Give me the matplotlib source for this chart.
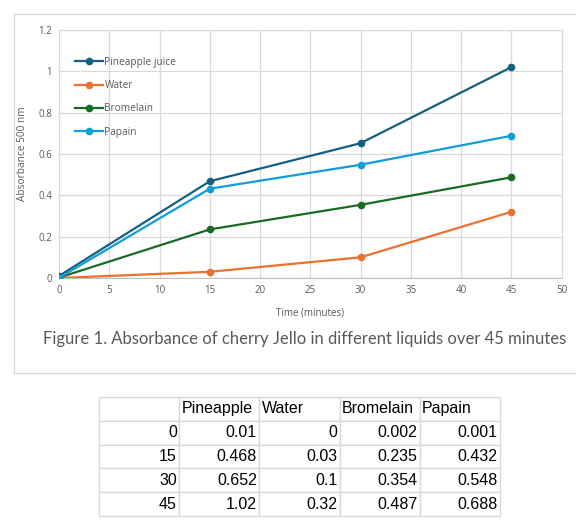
import matplotlib.pyplot as plt
from matplotlib.patches import Rectangle

# datos
tiempo = [0, 15, 30, 45]
pineapple = [0.01, 0.468, 0.652, 1.02]
water = [0, 0.03, 0.1, 0.32]
bromelain = [0.002, 0.235, 0.354, 0.487]
papain = [0.001, 0.432, 0.548, 0.688]

series_names = ["Pineapple juice", "Water", "Bromelain", "Papain"]
table_header = ["", "Pineapple", "Water", "Bromelain", "Papain"]
colores = ["#156082", "#E97132", "#196B24", "#0F9ED5"]

W, H = 576, 530
fig = plt.figure(figsize=(W / 100, H / 100), dpi=100)

gris = "#d9d9d9"
texto = "#595959"

# marco del grafico
fig.patches.append(Rectangle((14 / W, 1 - 373 / H), 600 / W, (373 - 14) / H,
                             transform=fig.transFigure, fill=False,
                             edgecolor=gris, linewidth=1))

ax = fig.add_axes([59 / W, 1 - 278 / H, (561.5 - 59) / W, (278 - 30) / H])

for serie, nombre, c in zip([pineapple, water, bromelain, papain], series_names, colores):
    ax.plot(tiempo, serie, color=c, linewidth=1.6, marker="o", markersize=4.5,
            label=nombre, zorder=3)

ax.set_xlim(0, 50)
ax.set_ylim(0, 1.2)
ax.set_xticks(range(0, 51, 5))
ax.set_yticks([0, 0.2, 0.4, 0.6, 0.8, 1, 1.2])
ax.set_yticklabels(["0", "0.2", "0.4", "0.6", "0.8", "1", "1.2"])
ax.grid(True, color=gris, linewidth=0.9)
for s in ax.spines.values():
    s.set_color(gris)
ax.spines["bottom"].set_color("#bfbfbf")
ax.tick_params(length=0, labelsize=7, labelcolor=texto, pad=5)
for lbl in ax.get_xticklabels() + ax.get_yticklabels():
    lbl.set_family(["Open Sans", "DejaVu Sans"])

ax.set_xlabel("Time (minutes)", fontsize=7, color=texto, labelpad=8,
              family=["Open Sans", "DejaVu Sans"])
ax.set_ylabel("Absorbance 500 nm", fontsize=7.3, color=texto, labelpad=7,
              family=["Open Sans", "DejaVu Sans"])

ax.legend(loc="upper left", bbox_to_anchor=(75 / W, 1 - 57 / H),
          bbox_transform=fig.transFigure, frameon=False,
          labelcolor=texto, handlelength=2.8, handletextpad=0.1,
          labelspacing=1.2, borderpad=0, borderaxespad=0,
          prop={"family": ["Open Sans", "DejaVu Sans"], "size": 7.3})

fig.text(43 / W, 1 - 339 / H,
         "Figure 1. Absorbance of cherry Jello in different liquids over 45 minutes",
         fontsize=12, color=texto, va="center", ha="left",
         family=["Lato", "DejaVu Sans"])

# tabla
tax = fig.add_axes([99 / W, 1 - 516 / H, (500 - 99) / W, (516 - 397) / H])
tax.axis("off")
filas = []
for i, t in enumerate(tiempo):
    filas.append([f"{t:g}"] + [f"{s[i]:g}" for s in [pineapple, water, bromelain, papain]])
tabla = tax.table(cellText=[table_header] + filas, bbox=[0, 0, 1, 1],
                  cellLoc="right")
tabla.auto_set_font_size(False)
for (r, c), cell in tabla.get_celld().items():
    cell.set_edgecolor(gris)
    cell.set_linewidth(1)
    cell.PAD = 0.03
    cell.get_text().set_fontsize(11.5)
    cell.get_text().set_family(["Liberation Sans", "DejaVu Sans"])
    if r == 0:
        cell.get_text().set_horizontalalignment("left")
        cell._loc = "left"

fig.savefig("out.png", dpi=100)
